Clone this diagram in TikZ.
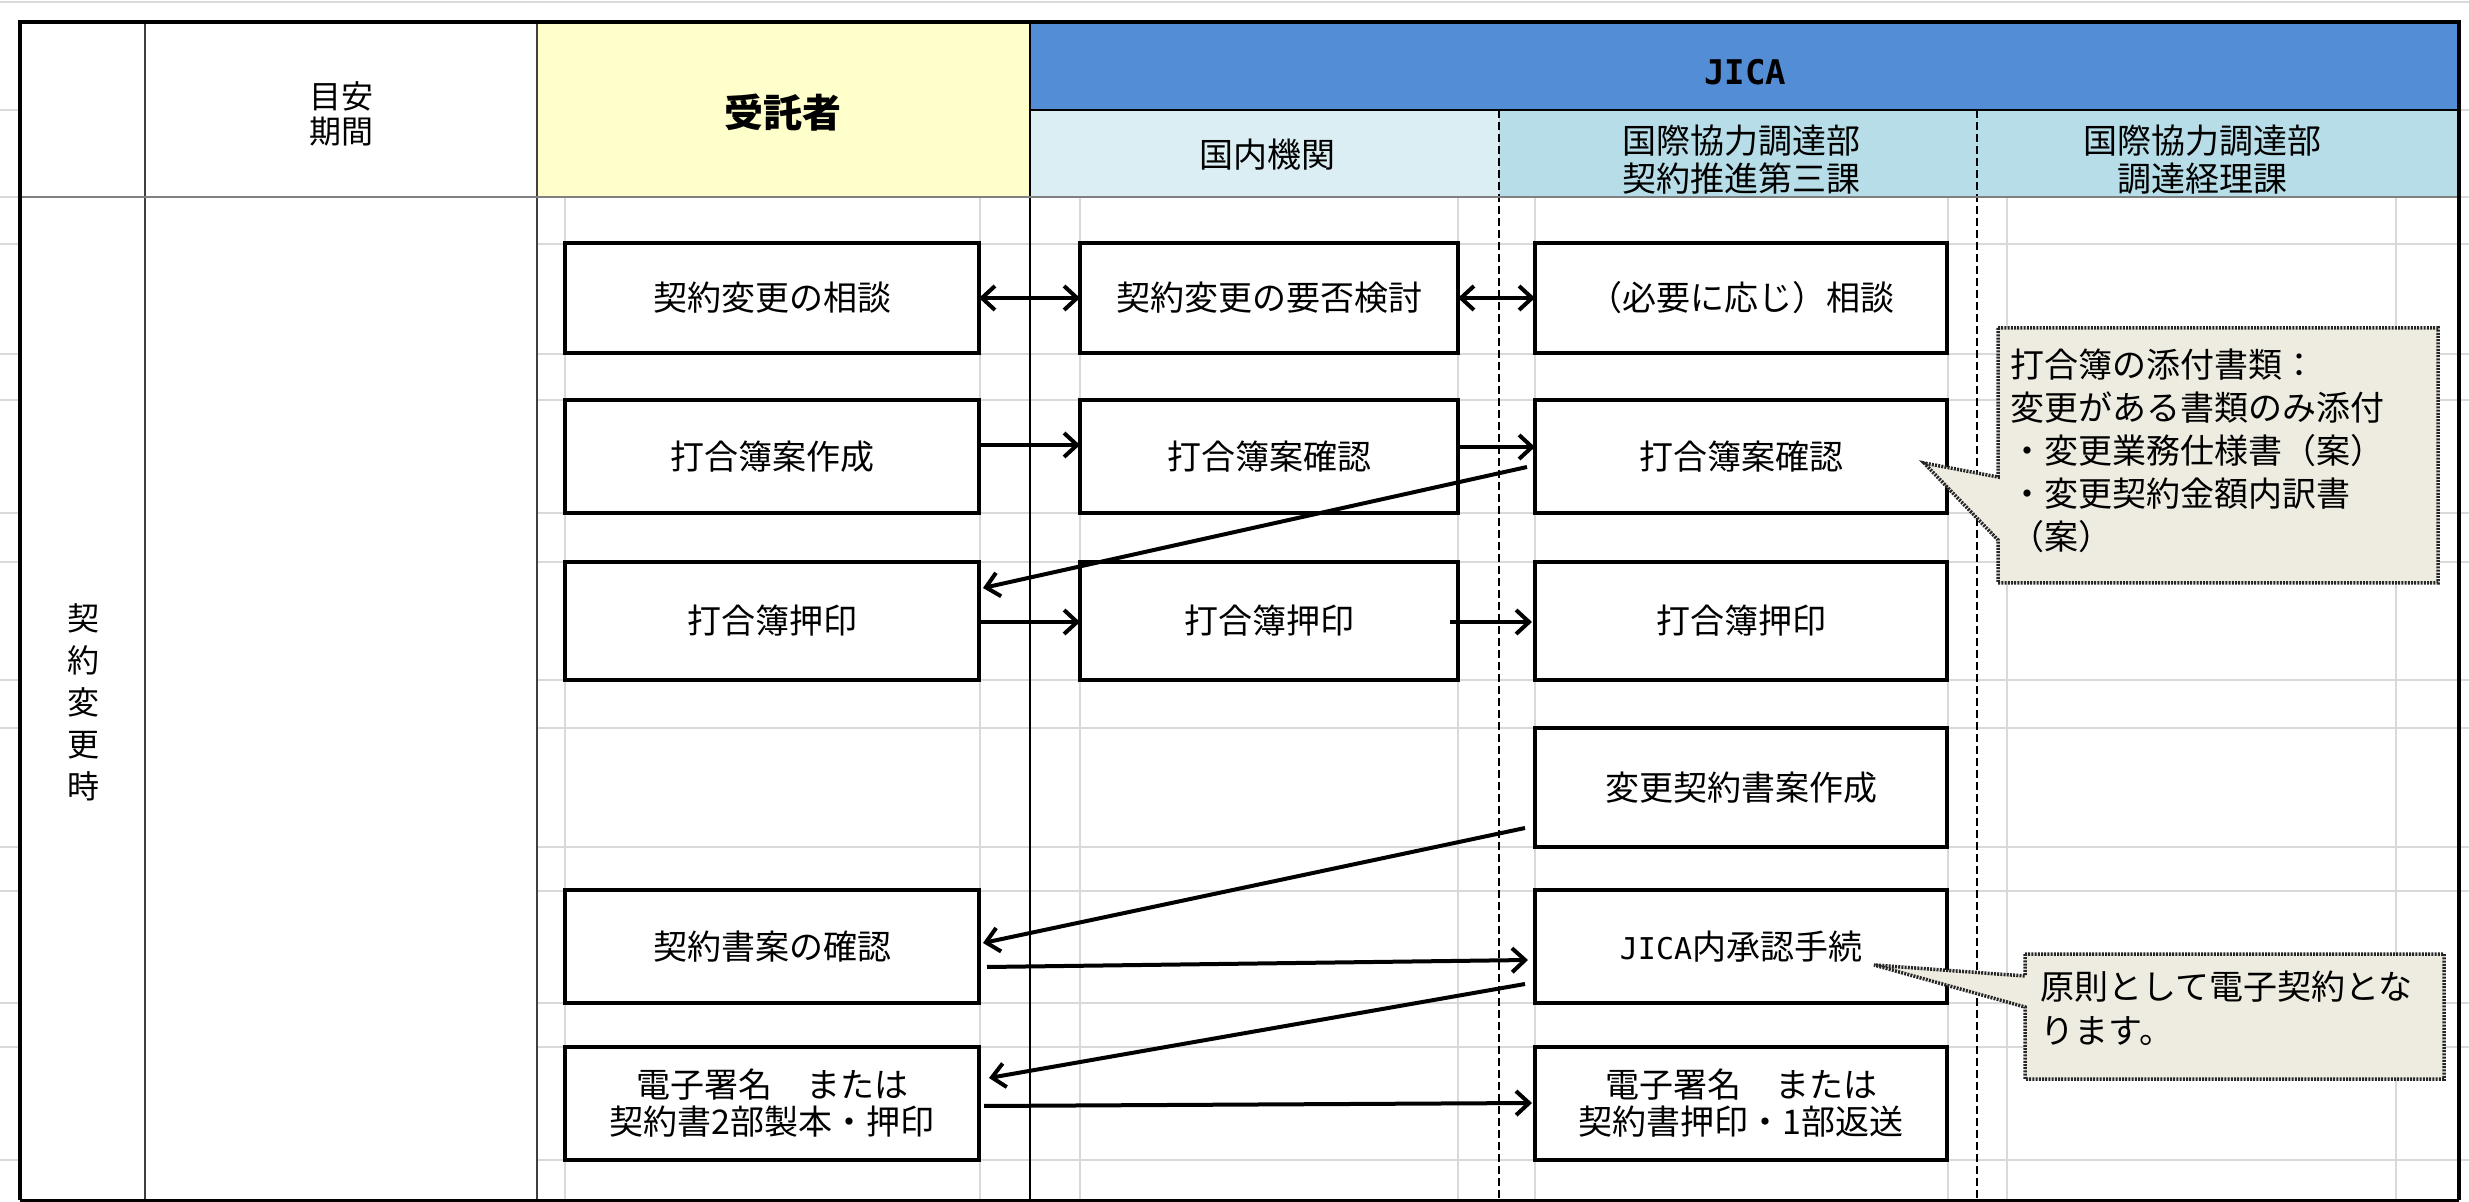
\documentclass[tikz,border=0pt]{standalone}
\usepackage{fontspec}
\setmainfont{Noto Sans CJK JP}
\newfontfamily\jmono{DejaVu Sans Mono}
\usetikzlibrary{arrows.meta,calc}
\definecolor{gridgray}{HTML}{D9D9D9}
\definecolor{hdryellow}{HTML}{FFFFCC}
\definecolor{hdrblue}{HTML}{538DD5}
\definecolor{hdrlight}{HTML}{DAEEF3}
\definecolor{hdrmid}{HTML}{B7DEE8}
\definecolor{calloutfill}{HTML}{EEECE1}
\definecolor{calloutline}{HTML}{262626}
\definecolor{rulegray}{HTML}{3F3F3F}
\tikzset{
  flowbox/.style={draw=black, line width=1.75pt, fill=white, inner sep=0pt, outer sep=0pt,
    align=center, font=\fontsize{17pt}{18.5pt}\selectfont},
  colA/.style={minimum width=207pt},
  colB/.style={minimum width=189pt},
  colC/.style={minimum width=206pt},
  arr/.style={line width=2pt, -{Straight Barb[length=6.5pt,width=12pt]}},
  dblarr/.style={line width=2pt, {Straight Barb[length=6.5pt,width=12pt]}-{Straight Barb[length=6.5pt,width=12pt]}},
  gridline/.style={draw=gridgray, line width=0.75pt},
  callout/.style={fill=calloutfill, draw=calloutline, line width=1.75pt, dash pattern=on 1pt off 0.6pt},
  notetext/.style={anchor=north west, inner sep=0pt, align=left},
  hdrtext/.style={inner sep=0pt, align=center},
}
\begin{document}
\begin{tikzpicture}[x=0.5pt,y=-0.5pt]
\useasboundingbox (0,0) rectangle (2469,1202);
\fill[white] (0,0) rectangle (2469,1202);
% header fills
\fill[hdryellow] (537,22) rectangle (1030,197);
\fill[hdrblue] (1030,22) rectangle (2459,110);
\fill[hdrlight] (1030,110) rectangle (1499,197);
\fill[hdrmid] (1499,110) rectangle (2459,197);
% spreadsheet grid
\foreach \yy in {244,354,400,513,562,680,728,847,891,1003,1047,1160}{
  \draw[gridline] (537,\yy) -- (2459,\yy);
  \draw[gridline] (0,\yy) -- (20,\yy);
  \draw[gridline] (2459,\yy) -- (2469,\yy);
}
\foreach \yy in {110,197}{
  \draw[gridline] (0,\yy) -- (20,\yy);
  \draw[gridline] (2459,\yy) -- (2469,\yy);
}
\draw[gridline] (0,2) -- (2469,2);
\foreach \xx in {565,980,1080,1458,1535,1948,2007,2396}{
  \draw[gridline] (\xx,197) -- (\xx,1200);
}
% table rules
\draw[rulegray, line width=1pt] (145,22) -- (145,1200);
\draw[rulegray, line width=1pt] (537,22) -- (537,1200);
\draw[black, line width=1pt] (1030,22) -- (1030,1200);
\draw[black, line width=1pt] (1030,110) -- (2459,110);
\draw[black, line width=0.75pt, dash pattern=on 4pt off 2pt] (1499,110) -- (1499,1200);
\draw[black, line width=0.75pt, dash pattern=on 4pt off 2pt] (1977,110) -- (1977,1200);
\draw[gray, line width=1.25pt] (20,197) -- (2459,197);
\draw[black, line width=2pt] (20,1200) -- (20,22) -- (2459,22) -- (2459,1200);
\draw[black, line width=1.5pt] (20,1200) -- (2459,1200);
% header texts
\node[hdrtext, font=\fontsize{16pt}{17.5pt}\selectfont] (hdrPeriod) at (341,114) {目安\\期間};
\node[hdrtext, font=\fontsize{19.5pt}{20pt}\selectfont\bfseries] (hdrContractor) at (783,113) {受託者};
\node[hdrtext, font=\jmono\fontsize{17pt}{18pt}\selectfont\bfseries] (hdrJica) at (1745,72) {JICA};
\node[hdrtext, font=\fontsize{17pt}{18pt}\selectfont] (hdrDomestic) at (1267,155) {国内機関};
\node[hdrtext, font=\fontsize{17pt}{19pt}\selectfont] (hdrPromo) at (1741,160) {国際協力調達部\\契約推進第三課};
\node[hdrtext, font=\fontsize{17pt}{19pt}\selectfont] (hdrAcct) at (2202,160) {国際協力調達部\\調達経理課};
\node[hdrtext, font=\fontsize{16pt}{21pt}\selectfont] (sideLabel) at (83,702) {契\\約\\変\\更\\時};
% boxes
\node[flowbox, colA, minimum height=55pt] (a1) at (772,298) {契約変更の相談};
\node[flowbox, colB, minimum height=55pt] (b1) at (1269,298) {契約変更の要否検討};
\node[flowbox, colC, minimum height=55pt] (c1) at (1741,298) {（必要に応じ）相談};
\node[flowbox, colA, minimum height=56.5pt] (a2) at (772,456.5) {打合簿案作成};
\node[flowbox, colB, minimum height=56.5pt] (b2) at (1269,456.5) {打合簿案確認};
\node[flowbox, colC, minimum height=56.5pt] (c2) at (1741,456.5) {打合簿案確認};
\node[flowbox, colA, minimum height=59pt] (a3) at (772,621) {打合簿押印};
\node[flowbox, colB, minimum height=59pt] (b3) at (1269,621) {打合簿押印};
\node[flowbox, colC, minimum height=59pt] (c3) at (1741,621) {打合簿押印};
\node[flowbox, colC, minimum height=59.5pt] (c4) at (1741,787.5) {変更契約書案作成};
\node[flowbox, colA, minimum height=56.5pt] (a5) at (772,946.5) {契約書案の確認};
\node[flowbox, colC, minimum height=56.5pt] (c5) at (1741,946.5) {{\jmono\fontsize{15pt}{18pt}\selectfont JICA}内承認手続};
\node[flowbox, colA, minimum height=56.5pt] (a6) at (772,1103.5) {電子署名　または\\契約書2部製本・押印};
\node[flowbox, colC, minimum height=56.5pt] (c6) at (1741,1103.5) {電子署名　または\\契約書押印・1部返送};
% connectors
\draw[dblarr] (a1.east) -- (b1.west);
\draw[dblarr] (b1.east) -- (c1.west);
\draw[arr] ($(a2.east)+(0,-11.5)$) -- ($(b2.west)+(0,-11.5)$);
\draw[arr] ($(b2.east)+(0,-9.5)$) -- ($(c2.west)+(0,-9.5)$);
\draw[arr] ($(c2.west)+(-8,10.5)$) -- ($(a3.east)+(4,-33)$);
\draw[arr] ($(a3.east)+(0,1)$) -- ($(b3.west)+(0,1)$);
\draw[arr] ($(b3.east)+(-8,1)$) -- ($(c3.west)+(-3,1)$);
\draw[arr] ($(c4.west)+(-10,40.5)$) -- ($(a5.east)+(4,-3.5)$);
\draw[arr] ($(a5.east)+(8,20.5)$) -- ($(c5.west)+(-7,13.5)$);
\draw[arr] ($(c5.west)+(-10,37.5)$) -- ($(a6.east)+(10,-25.5)$);
\draw[arr] ($(a6.east)+(5,2.5)$) -- ($(c6.west)+(-3,-0.5)$);
% callouts
\draw[callout] (1998,328) -- (2438,328) -- (2438,583) -- (1998,583) -- (1998,540) -- (1924,463) -- (1998,477) -- cycle;
\node[notetext, font=\fontsize{17pt}{21.5pt}\selectfont] (note1) at (2010,348)
  {打合簿の添付書類：\\変更がある書類のみ添付\\・変更業務仕様書（案）\\・変更契約金額内訳書\\（案）};
\draw[callout] (2025,954) -- (2444,954) -- (2444,1079) -- (2025,1079) -- (2025,1007) -- (1874,965) -- (2025,976) -- cycle;
\node[notetext, font=\fontsize{17pt}{22pt}\selectfont] (note2) at (2040,971)
  {原則として電子契約とな\\ります。};
\end{tikzpicture}
\end{document}
